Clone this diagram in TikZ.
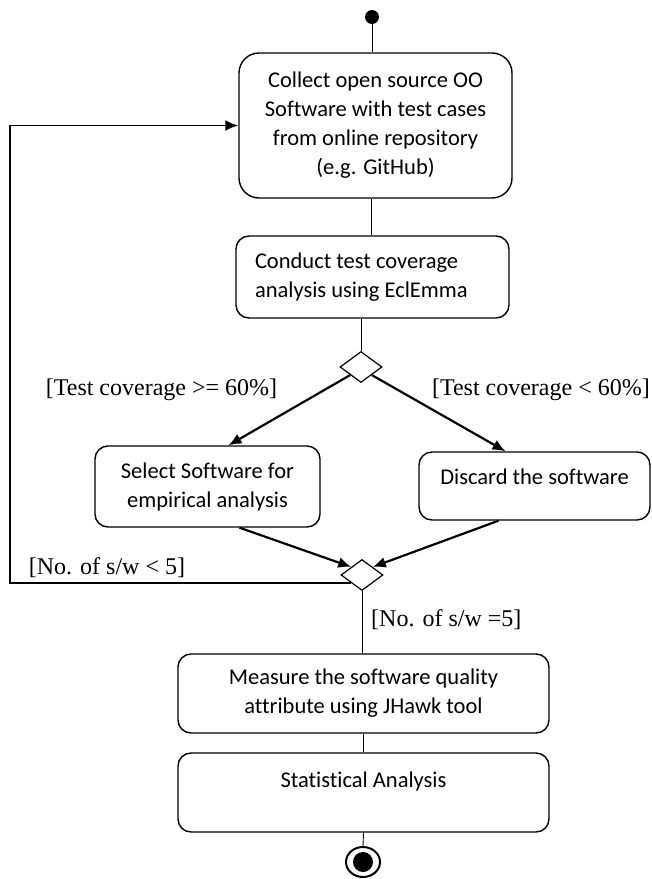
\documentclass[tikz,border=0pt]{standalone}
\usepackage{fontspec}
\setmainfont{Carlito}[Ligatures=CommonOff]
\newfontfamily\guardfont{Liberation Serif}
\usetikzlibrary{shapes.geometric}
\usetikzlibrary{arrows.meta}
\tikzset{
  act/.style={draw, line width=1.4pt, rounded corners=13pt, align=center, inner sep=0pt,
              font=\fontsize{22.5}{29}\selectfont},
  decision/.style={draw, diamond, line width=1.2pt, inner sep=0pt, minimum width=42pt, minimum height=31pt},
  guard/.style={font=\guardfont\fontsize{24}{28}\selectfont, inner sep=1pt},
  flow/.style={line width=2.2pt, -{Latex[length=13pt,width=11pt]}},
  link/.style={line width=0.9pt}
}

\begin{document}
\begin{tikzpicture}[x=1pt, y=-1pt]
                \useasboundingbox (0,0) rectangle (652,879);
                % start and end
                \node[circle, fill, inner sep=0pt, minimum size=14pt] (start) at (372,17) {};
                \node[draw, ellipse, line width=2pt, inner sep=0pt, minimum width=34pt, minimum height=30pt] (end) at (363,862) {};
                \fill (end.center) circle (10);
                % activities
                \node[act, rounded corners=20pt, minimum width=273pt, minimum height=145pt] (collect) at (375.5,125.5)
                    {Collect open source OO\\Software with test cases\\from online repository\\(e.g. GitHub)};
                \node[act, align=flush left, text width=235pt, inner xsep=19pt, minimum height=82pt] (conduct) at (372.5,277)
                    {Conduct test coverage\\analysis using EclEmma};
                \node[act, minimum width=225pt, minimum height=81pt] (select) at (207.5,486.5)
                    {Select Software for\\empirical analysis};
                \node[act, minimum width=231pt, minimum height=68pt, text depth=18pt] (discard) at (534.5,486)
                    {Discard the software};
                \node[act, minimum width=371pt, minimum height=79pt] (measure) at (363.5,693.5)
                    {Measure the software quality\\attribute using JHawk tool};
                \node[act, minimum width=371pt, minimum height=79pt, text depth=25pt] (stats) at (363.5,792.5)
                    {Statistical Analysis};
                % decisions
                \node[decision] (dec1) at (361,367) {};
                \node[decision] (dec2) at (362,575) {};
                % guards
                \node[guard] (high) at (161.5,390) {[Test coverage >= 60\%]};
                \node[guard, anchor=east] (low) at (651,390) {[Test coverage < 60\%]};
                \node[guard] (more) at (107,568) {[No. of s/w < 5]};
                \node[guard, anchor=west] (done) at (370,620) {[No. of s/w =5]};
                \coordinate (back) at (10,125.5);
                % flows
                \draw[link] (start) -- (start |- collect.north);
                \draw[link] (conduct.north -| 371,0) -- (collect.south -| 371,0);
                \draw[link] (dec1.north) -- (dec1.north |- conduct.south);
                \draw[flow] (dec1.south west) -- ([xshift=21pt]select.north);
                \draw[flow] (dec1.south east) -- ([xshift=-29pt]discard.north);
                \draw[flow] ([xshift=32pt]select.south) -- (dec2.north west);
                \draw[flow] ([xshift=-36pt]discard.south) -- (dec2.north east);
                \draw[flow, line width=1.8pt] (dec2.south west) -| (back) -- (collect.west);
                \draw[link] (dec2.south) -- (dec2.south |- measure.north);
                \draw[link] (measure.south) -- (stats.north);
                \draw[link] (stats.south) -- (end.north);
\end{tikzpicture}
\end{document}
